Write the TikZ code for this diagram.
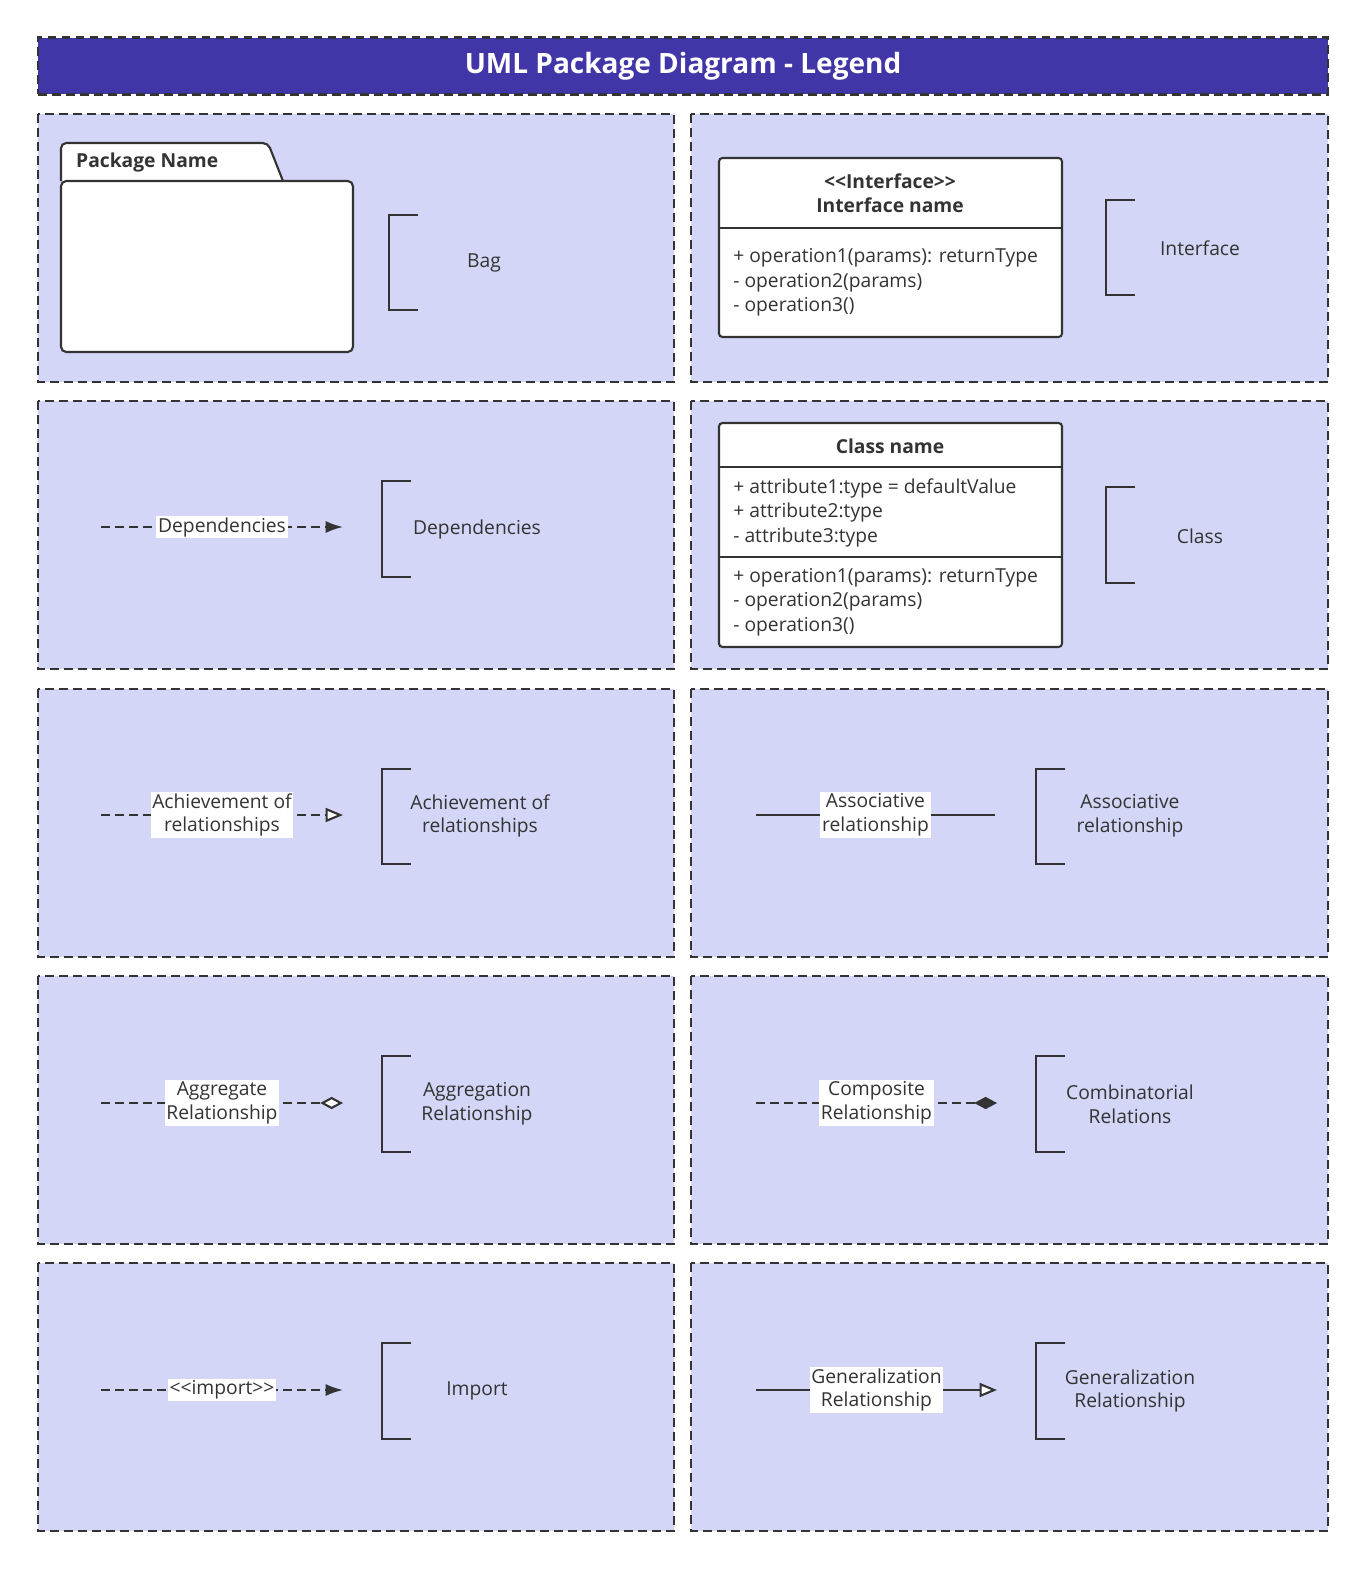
\documentclass[tikz,border=0pt]{standalone}
\usepackage{fontspec}
\setmainfont{Open Sans}
\usetikzlibrary{arrows.meta,positioning}
\definecolor{ink}{HTML}{333333}
\definecolor{panelfill}{HTML}{D3D6F7}
\definecolor{headfill}{HTML}{4036A8}
\begin{document}
\begin{tikzpicture}[
  x=0.020075cm, y=-0.020075cm,
  lw/.style={line width=1.2pt},
  dsh/.style={dash pattern=on 5pt off 3pt},
  panel/.style={draw=ink, lw, dsh, fill=panelfill},
  bracket/.style={draw=ink, lw},
  legend/.style={text=ink, font=\fontsize{11}{13.5}\selectfont, align=center},
  label/.style={legend, fill=white, inner sep=1pt},
  dep/.style={draw=ink, lw, dsh, -{Latex[length=10pt,width=7pt]}},
  real/.style={draw=ink, lw, dsh, -{Triangle[open,fill=white,length=10pt,width=8pt]}},
  assoc/.style={draw=ink, lw},
  aggr/.style={draw=ink, lw, dsh, -{Diamond[open,fill=white,length=13pt,width=7pt]}},
  comp/.style={draw=ink, lw, dsh, -{Diamond[length=13pt,width=7pt]}},
  gen/.style={draw=ink, lw, -{Triangle[open,fill=white,length=10pt,width=8pt]}},
  umlbox/.style={draw=ink, lw, fill=white, rounded corners=2pt},
  member/.style={text=ink, font=\fontsize{11}{13.5}\selectfont, anchor=west, inner sep=0pt},
]
\useasboundingbox (0,0) rectangle (1371,1575);
% title
\node[draw=ink, lw, dsh, fill=headfill, minimum width=25.9cm, minimum height=1.144cm,
  text=white, font=\fontsize{16}{19}\selectfont\bfseries] (title) at (683,66) {UML Package Diagram - Legend};
% panels
\foreach \y in {114,401,689,976,1263}{
  \draw[panel] (38,\y) rectangle (674,\y+268);
  \draw[panel] (691,\y) rectangle (1328,\y+268);
}
% brackets
\newcommand{\brk}[3]{\draw[bracket] (#1+29,#2) -- (#1,#2) -- (#1,#3) -- (#1+29,#3);}
\brk{389}{215}{310} \brk{1106}{200}{295}
\brk{382}{481}{577} \brk{1106}{487}{583}
\brk{382}{769}{864} \brk{1036}{769}{864}
\brk{382}{1056}{1152} \brk{1036}{1056}{1152}
\brk{382}{1343}{1439} \brk{1036}{1343}{1439}
% legend texts
\node[legend] (bag) at (484,263) {Bag};
\node[legend] (iface) at (1200,248) {Interface};
\node[legend] (deps) at (477,529) {Dependencies};
\node[legend] (cls) at (1200,536) {Class};
\node[legend] (realz) at (480,816) {Achievement of\\relationships};
\node[legend] (asso) at (1130,816) {Associative\\relationship};
\node[legend] (aggrt) at (477,1104) {Aggregation\\Relationship};
\node[legend] (combt) at (1130,1104) {Combinatorial\\Relations};
\node[legend] (imp) at (477,1391) {Import};
\node[legend] (gent) at (1130,1391) {Generalization\\Relationship};

% package (folder)
\draw[umlbox, rounded corners=3pt] (61,181) -- (61,143) -- (268,143) -- (283,181);
\draw[umlbox, rounded corners=3pt] (61,181) rectangle (353,352);
\node[text=ink, font=\fontsize{11}{13.5}\selectfont\bfseries, anchor=west] (pkg) at (70,162) {Package Name};

% interface
\draw[umlbox] (719,158) rectangle (1062,337);
\draw[ink, lw] (719,228) -- (1062,228);
\node[legend, font=\fontsize{11}{13.5}\selectfont\bfseries] (ifname) at (890,193) {{<}{<}Interface{>}{>}\\Interface name};
\node[member] (iop1) at (733,258) {+ operation1(params): returnType};
\node[member] (iop2) at (733,283) {- operation2(params)};
\node[member] (iop3) at (733,307) {- operation3()};

% class
\draw[umlbox] (719,423) rectangle (1062,647);
\draw[ink, lw] (719,467) -- (1062,467);
\draw[ink, lw] (719,557) -- (1062,557);
\node[legend, font=\fontsize{11}{13.5}\selectfont\bfseries] (cname) at (890,446) {Class name};
\node[member] (att1) at (733,488) {+ attribute1:type = defaultValue};
\node[member] (att2) at (733,512) {+ attribute2:type};
\node[member] (att3) at (733,537) {- attribute3:type};
\node[member] (cop1) at (733,578) {+ operation1(params): returnType};
\node[member] (cop2) at (733,602) {- operation2(params)};
\node[member] (cop3) at (733,627) {- operation3()};

% connectors
\coordinate (d1) at (101,527); \coordinate (d2) at (343,527);
\coordinate (r1) at (101,815); \coordinate (r2) at (343,815);
\coordinate (a1) at (756,815); \coordinate (a2) at (995,815);
\coordinate (g1) at (101,1103); \coordinate (g2) at (343,1103);
\coordinate (c1) at (756,1103); \coordinate (c2) at (997,1103);
\coordinate (i1) at (101,1390); \coordinate (i2) at (343,1390);
\coordinate (e1) at (756,1390); \coordinate (e2) at (997,1390);
\draw[dep] (d1) -- node[label] {Dependencies} (d2);
\draw[real] (r1) -- node[label] {Achievement of\\relationships} (r2);
\draw[assoc] (a1) -- node[label] {Associative\\relationship} (a2);
\draw[aggr] (g1) -- node[label] {Aggregate\\Relationship} (g2);
\draw[comp] (c1) -- node[label] {Composite\\Relationship} (c2);
\draw[dep] (i1) -- node[label] {{<}{<}import{>}{>}} (i2);
\draw[gen] (e1) -- node[label] {Generalization\\Relationship} (e2);
\end{tikzpicture}
\end{document}
